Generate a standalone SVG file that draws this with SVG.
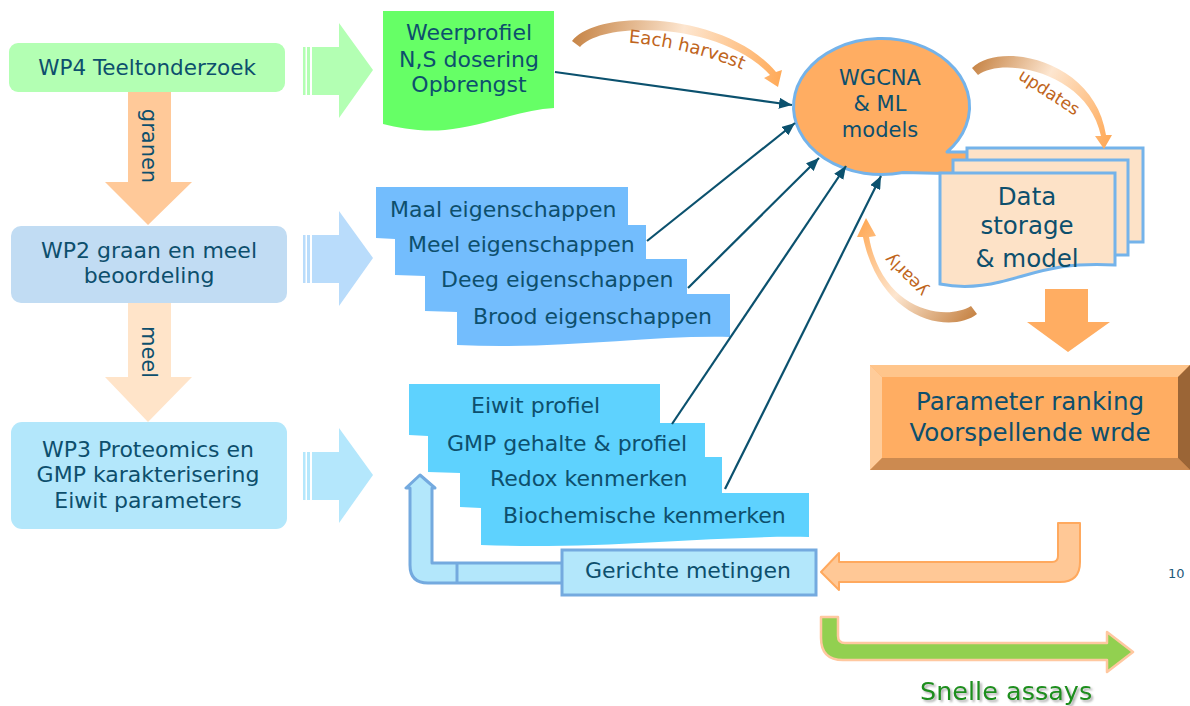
<svg xmlns="http://www.w3.org/2000/svg" width="1190" height="706" viewBox="0 0 1190 706">
<style>
text{font-family:"DejaVu Sans","Verdana",sans-serif;fill:#0d4f6d}
.t22{font-size:22px}
.mid{text-anchor:middle}
.arc{font-size:17px;fill:#c0651c}
.conn{stroke:#0b516e;stroke-width:2.2;fill:none;marker-end:url(#ah)}
.doc{fill:#fde2c7;stroke:#74b3ea;stroke-width:3}
</style>
<defs>
<marker id="ah" markerUnits="userSpaceOnUse" markerWidth="13" markerHeight="11" refX="13" refY="5.5" orient="auto">
<path d="M0,0 L13,5.5 L0,11 Z" fill="#0b516e"/>
</marker>
<linearGradient id="gEach" gradientUnits="userSpaceOnUse" x1="575" y1="40" x2="778" y2="85">
<stop offset="0" stop-color="#c8874a"/><stop offset="0.5" stop-color="#fde6d0"/><stop offset="1" stop-color="#ffab5a"/>
</linearGradient>
<linearGradient id="gUpd" gradientUnits="userSpaceOnUse" x1="972" y1="70" x2="1105" y2="147">
<stop offset="0" stop-color="#c8874a"/><stop offset="0.45" stop-color="#fde6d0"/><stop offset="1" stop-color="#ffab5a"/>
</linearGradient>
<linearGradient id="gYear" gradientUnits="userSpaceOnUse" x1="975" y1="312" x2="866" y2="220">
<stop offset="0" stop-color="#c8874a"/><stop offset="0.5" stop-color="#fde6d0"/><stop offset="1" stop-color="#ffab5a"/>
</linearGradient>
<filter id="sh" x="-10%" y="-30%" width="130%" height="170%">
<feDropShadow dx="2" dy="2" stdDeviation="1.2" flood-color="#777" flood-opacity="0.6"/>
</filter>
<path id="eachPath" d="M620,42 Q688,46 750,73"/>
</defs>

<!-- left column -->
<g id="wp4">
<rect x="9" y="43" width="276" height="49" rx="9" fill="#b3ffb3"/>
<text class="t22 mid" x="147" y="75" style="font-size:21.5px">WP4 Teeltonderzoek</text>
</g>
<g id="arrow-granen">
<path d="M128,92 H171 V182 H192 L148,225 L105,182 H128 Z" fill="#ffc999"/>
<text transform="translate(142,146) rotate(90)" class="mid" style="font-size:21px">granen</text>
</g>
<g id="wp2">
<rect x="11" y="226" width="276" height="77" rx="10" fill="#c1dcf3"/>
<text class="t22 mid" x="149" y="258">WP2 graan en meel</text>
<text class="t22 mid" x="149" y="283">beoordeling</text>
</g>
<g id="arrow-meel">
<path d="M128,303 H171 V377 H192 L148,422 L105,377 H128 Z" fill="#ffe4c9"/>
<text transform="translate(142,352) rotate(90)" class="mid" style="font-size:21px">meel</text>
</g>
<g id="wp3">
<rect x="11" y="422" width="276" height="107" rx="11" fill="#b3e7fb"/>
<text class="t22 mid" x="148" y="457">WP3 Proteomics en</text>
<text class="t22 mid" x="148" y="482">GMP karakterisering</text>
<text class="t22 mid" x="148" y="508">Eiwit parameters</text>
</g>

<!-- striped arrows -->
<g id="sarrow1" fill="#b3ffb3">
<rect x="303" y="47" width="2.5" height="48"/><rect x="307" y="47" width="3" height="48"/>
<path d="M312,47 H339 V23 L373,70 L339,118 V95 H312 Z"/>
</g>
<g id="sarrow2" fill="#b9dcfb">
<rect x="303" y="235" width="2.5" height="48"/><rect x="307" y="235" width="3" height="48"/>
<path d="M312,235 H339 V211 L373,258 L339,306 V283 H312 Z"/>
</g>
<g id="sarrow3" fill="#b4e7fc">
<rect x="303" y="452" width="2.5" height="48"/><rect x="307" y="452" width="3" height="48"/>
<path d="M312,452 H339 V428 L373,475 L339,523 V500 H312 Z"/>
</g>

<!-- weerprofiel -->
<g id="weerprofiel">
<path d="M383,11 H554 V108 C520,110 480,127 445,130 C420,132 400,128 383,124 Z" fill="#66ff66"/>
<text class="t22 mid" x="469" y="40">Weerprofiel</text>
<text class="t22 mid" x="469" y="67">N,S dosering</text>
<text class="t22 mid" x="469" y="92">Opbrengst</text>
</g>

<!-- eigenschappen -->
<g id="eigenschappen">
<path d="M376,187 H628 V225 H646 V259 H687 V294 H730 V337 C650,335 560,350 457,345 V312 L425,311 V276 L395,275 V239 L376,238 Z" fill="#73bdfd"/>
<text class="t22" x="390" y="217">Maal eigenschappen</text>
<text class="t22" x="408" y="252">Meel eigenschappen</text>
<text class="t22" x="441" y="287">Deeg eigenschappen</text>
<text class="t22" x="473" y="324">Brood eigenschappen</text>
</g>

<!-- eiwit -->
<g id="eiwit">
<path d="M409,384 H660 V423 H705 V457 H722 V493 H809 V537 C720,535 600,550 481,545 V508 L460,507 V473 L428,472 V436 L409,435 Z" fill="#5ed2fe"/>
<text class="t22" x="471" y="413">Eiwit profiel</text>
<text class="t22" x="447" y="451">GMP gehalte &amp; profiel</text>
<text class="t22" x="490" y="486">Redox kenmerken</text>
<text class="t22" x="503" y="523">Biochemische kenmerken</text>
</g>

<!-- gerichte metingen -->
<g id="gerichte">
<path d="M565,563 H432 V488 H435 L420,475 L406,488 H410 V565 Q410,583 428,583 H565 Z" fill="#b3e7fb" stroke="#74aadf" stroke-width="3" stroke-linejoin="round"/>
<line x1="457" y1="563" x2="457" y2="583" stroke="#74aadf" stroke-width="3"/>
<rect x="562" y="550" width="254" height="45" fill="#b3e7fb" stroke="#74aadf" stroke-width="3"/>
<text class="t22" x="585" y="578">Gerichte metingen</text>
</g>

<!-- WGCNA bubble -->
<g id="wgcna">
<path d="M947,152 A88,68 0 1 0 903,172.5 L968,174 L968,152 Z" fill="#ffad62" stroke="#74b3ea" stroke-width="3" stroke-linejoin="round"/>
<text class="mid" x="880" y="85" style="font-size:21px">WGCNA</text>
<text class="mid" x="880" y="111" style="font-size:21px">&amp; ML</text>
<text class="mid" x="880" y="137" style="font-size:21px">models</text>
</g>

<!-- data storage -->
<g id="datastorage">
<rect class="doc" x="967" y="148" width="176" height="94"/>
<rect class="doc" x="953" y="160" width="175" height="95"/>
<path class="doc" d="M940,173 H1115 V265 C1060,262 1040,272 1000,282 C975,288 955,287 940,284 Z"/>
<text class="mid" x="1027" y="205" style="font-size:24.5px">Data</text>
<text class="mid" x="1027" y="234" style="font-size:24.5px">storage</text>
<text class="mid" x="1027" y="267" style="font-size:24.5px">&amp; model</text>
</g>

<!-- down arrow -->
<g id="downarrow">
<path d="M1045,289 H1088 V322 H1110 L1068,352 L1027,322 H1045 Z" fill="#ffad62"/>
</g>

<!-- parameter ranking -->
<g id="ranking">
<rect x="870" y="365" width="320" height="105" fill="#ffad62"/>
<polygon points="870,365 1190,365 1178,377 882,377" fill="#ffc58b"/>
<polygon points="870,365 882,377 882,458 870,470" fill="#ffcc9a"/>
<polygon points="870,470 882,458 1178,458 1190,470" fill="#cc8a50"/>
<polygon points="1190,365 1190,470 1178,458 1178,377" fill="#9b6536"/>
<text class="mid" x="1030" y="410" style="font-size:24.5px">Parameter ranking</text>
<text class="mid" x="1030" y="441" style="font-size:24.5px">Voorspellende wrde</text>
</g>

<!-- curved labelled arrows -->
<g id="each-harvest">
<path d="M572,41 C598,8 725,12 776,72 L782,70 L778,87 L764,78 L770,75 C722,22 603,20 580,47 Z" fill="url(#gEach)"/>
<text style="font-size:18px;fill:#c0651c"><textPath href="#eachPath" startOffset="50%" text-anchor="middle">Each harvest</textPath></text>
</g>
<g id="updates">
<path d="M972,68 C1000,40 1095,60 1106,135 L1112,135 L1104,149 L1095,136 L1101,136 C1088,72 1003,56 978,75 Z" fill="url(#gUpd)"/>
<text class="arc mid" transform="translate(1046,97) rotate(33)">updates</text>
</g>
<g id="yearly">
<path d="M977,314 C950,335 880,320 863,237 L857,237 L866,218 L876,236 L869,237 C882,310 945,322 971,306 Z" fill="url(#gYear)"/>
<text class="arc mid" transform="translate(910,271) rotate(225)">yearly</text>
</g>

<!-- U arrows -->
<g id="orange-return">
<path d="M1058,523 H1080 V562 Q1080,582 1060,582 H839 V590 L821,572 L839,553 V562 H1052 Q1058,562 1058,556 Z" fill="#ffc896" stroke="#ffa95e" stroke-width="2" stroke-linejoin="round"/>
</g>
<g id="green-assays">
<path d="M821,617 H838 V636 Q838,643 845,643 H1107 V632 L1133,652 L1107,672 V660 H843 Q821,660 821,638 Z" fill="#92d050" stroke="#ffc8a0" stroke-width="2.5" stroke-linejoin="round"/>
<text x="920" y="700" filter="url(#sh)" style="font-size:25.5px;fill:#1f8f1f">Snelle assays</text>
</g>

<text x="1168" y="578" style="font-size:13px;fill:#1e5a7a">10</text>

<!-- connectors -->
<g id="connectors">
<line class="conn" x1="555" y1="72" x2="792" y2="105"/>
<line class="conn" x1="647" y1="241" x2="795" y2="123"/>
<line class="conn" x1="688" y1="288" x2="819" y2="158"/>
<line class="conn" x1="672" y1="424" x2="846" y2="166"/>
<line class="conn" x1="725" y1="489" x2="881" y2="176"/>
</g>
</svg>
